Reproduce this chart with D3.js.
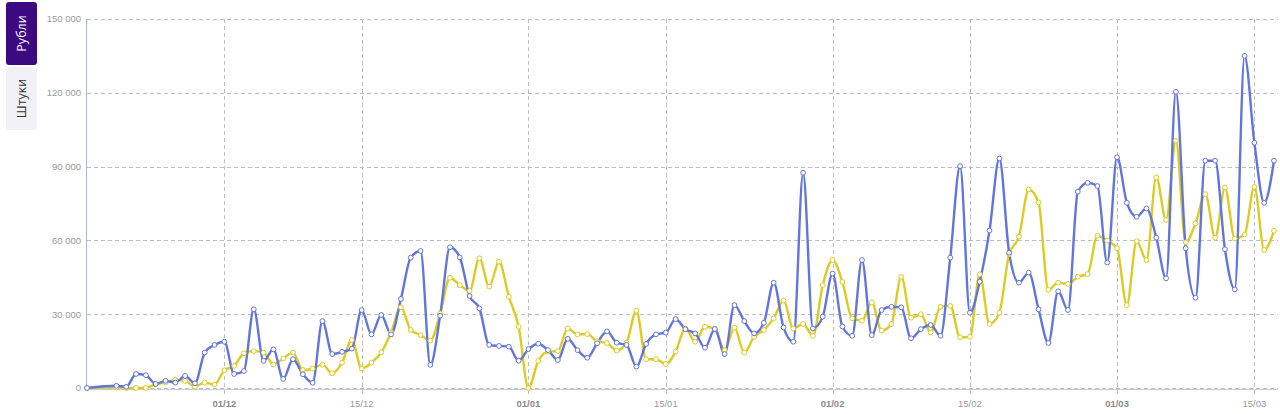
<!DOCTYPE html>
<html>
<head>
<meta charset="utf-8">
<script src="https://cdn.jsdelivr.net/npm/d3@7/dist/d3.min.js"></script>
<style>
  html, body { margin: 0; padding: 0; background: #fff; }
  svg { display: block; font-family: "Liberation Sans", Arial, sans-serif; }
</style>
</head>
<body>
<svg id="chart" width="1280" height="414"></svg>
<script>
const dates = [
  "2023-11-17","2023-11-20","2023-11-21","2023-11-22","2023-11-23","2023-11-24","2023-11-25","2023-11-26","2023-11-27","2023-11-28","2023-11-29","2023-11-30",
  "2023-12-01","2023-12-02","2023-12-03","2023-12-04","2023-12-05","2023-12-06","2023-12-07","2023-12-08","2023-12-09","2023-12-10","2023-12-11","2023-12-12","2023-12-13","2023-12-14","2023-12-15","2023-12-16","2023-12-17","2023-12-18","2023-12-19","2023-12-20","2023-12-21","2023-12-22","2023-12-23","2023-12-24","2023-12-25","2023-12-26","2023-12-27","2023-12-28","2023-12-29","2023-12-30","2023-12-31",
  "2024-01-01","2024-01-02","2024-01-03","2024-01-04","2024-01-05","2024-01-06","2024-01-07","2024-01-08","2024-01-09","2024-01-10","2024-01-11","2024-01-12","2024-01-13","2024-01-14","2024-01-15","2024-01-16","2024-01-17","2024-01-18","2024-01-19","2024-01-20","2024-01-21","2024-01-22","2024-01-23","2024-01-24","2024-01-25","2024-01-26","2024-01-27","2024-01-28","2024-01-29","2024-01-30","2024-01-31",
  "2024-02-01","2024-02-02","2024-02-03","2024-02-04","2024-02-05","2024-02-06","2024-02-07","2024-02-08","2024-02-09","2024-02-10","2024-02-11","2024-02-12","2024-02-13","2024-02-14","2024-02-15","2024-02-16","2024-02-17","2024-02-18","2024-02-19","2024-02-20","2024-02-21","2024-02-22","2024-02-23","2024-02-24","2024-02-25","2024-02-26","2024-02-27","2024-02-28","2024-02-29",
  "2024-03-01","2024-03-02","2024-03-03","2024-03-04","2024-03-05","2024-03-06","2024-03-07","2024-03-08","2024-03-09","2024-03-10","2024-03-11","2024-03-12","2024-03-13","2024-03-14","2024-03-15","2024-03-16","2024-03-17"
];

const seriesBlue = [
  0,900,500,5700,5200,1600,2900,2200,4900,1900,14400,17500,
  18800,5700,6900,32000,11000,15700,3700,11700,5600,2100,27200,13800,14700,16000,31700,21800,29700,21800,36200,53000,55700,9400,29400,57200,53100,37400,32400,17500,17100,16800,11100,
  15800,18000,15400,11400,20000,15400,12300,18200,23000,18400,17500,8700,17900,21800,22500,28000,23900,22200,16400,24000,13800,33700,27200,22200,26500,42800,24600,18800,87500,24200,29000,
  46500,25000,21200,52000,21500,31700,33000,32800,20200,23900,25600,21200,53000,90200,30600,43200,64000,93300,55000,42800,46900,32000,18300,39300,31700,79800,83400,82100,51000,
  93800,75300,69600,73000,61100,44600,120400,56800,36700,92400,92400,56400,40100,135000,99700,75300,92400
];

const seriesYellow = [
  0,200,0,0,0,1600,2200,3300,2900,600,2200,1400,
  7200,9000,14100,15000,14400,9600,12000,14400,7300,7900,9500,6000,10300,19500,7900,10300,14500,22600,32800,23600,21500,19300,30300,44800,41800,39500,52700,41200,51300,37100,24900,
  0,11000,14800,15000,24200,21800,21900,19000,18300,15200,18400,31400,11700,11700,9800,14800,24200,18800,24900,24000,15400,24500,14400,20800,23600,28300,35500,24200,26000,21200,41800,
  52000,43100,28300,27400,34800,23300,26000,45200,28600,30000,22600,33000,33400,20600,20800,46200,26000,30600,54400,61500,80700,75400,39900,42800,42300,45200,46300,61900,59900,
  56800,33700,59700,52000,85600,68300,100500,59200,66900,78800,61100,81500,60800,62400,81800,56100,63900
];

const yTicks = [0, 30000, 60000, 90000, 120000, 150000];
const xTicks = ["2023-12-01","2023-12-15","2024-01-01","2024-01-15","2024-02-01","2024-02-15","2024-03-01","2024-03-15"];
const toggleLabels = ["Рубли", "Штуки"];

const parse = d3.timeParse("%Y-%m-%d");
const pDates = dates.map(parse);
const svg = d3.select("#chart");

const x = d3.scaleTime().domain(d3.extent(pDates)).range([87, 1274]);
const y = d3.scaleLinear().domain([0, 150000]).range([388, 19]);

const fmtY = v => d3.format(",")(v).replace(/,/g, " ");
const fmtX = d3.timeFormat("%d/%m");

// toggle buttons
const tg = svg.append("g");
const btns = [
  {label: toggleLabels[0], y0: 2, h: 63, fill: "#3c0a80", color: "#ffffff"},
  {label: toggleLabels[1], y0: 67, h: 63, fill: "#f2f1f7", color: "#333333"}
];
btns.forEach((b, i) => {
  tg.append("rect").attr("x", 6).attr("y", b.y0).attr("width", 31).attr("height", b.h)
    .attr("rx", 3).attr("fill", b.fill);
  tg.append("text")
    .attr("transform", `translate(${6 + 31/2 + 4.5},${b.y0 + b.h/2}) rotate(-90)`)
    .attr("text-anchor", "middle")
    .attr("font-size", 12.5)
    .attr("font-family", "'Open Sans', 'Liberation Sans', Arial, sans-serif")
    .attr("fill", b.color)
    .text(b.label);
});

// horizontal gridlines
const gridG = svg.append("g");
gridG.selectAll("line.h").data(yTicks).join("line")
  .attr("x1", 87).attr("x2", 1278)
  .attr("y1", d => Math.round(y(d)) + 0.5).attr("y2", d => Math.round(y(d)) + 0.5)
  .attr("stroke", "#b9bec6").attr("stroke-width", 1).attr("stroke-dasharray", "4,3");

// vertical gridlines
gridG.selectAll("line.v").data(xTicks.map(parse)).join("line")
  .attr("x1", d => Math.round(x(d)) + 0.5).attr("x2", d => Math.round(x(d)) + 0.5)
  .attr("y1", 19).attr("y2", 394)
  .attr("stroke", "#b9bec6").attr("stroke-width", 1).attr("stroke-dasharray", "4,3");

// axis lines
svg.append("line").attr("x1", 86.5).attr("x2", 86.5).attr("y1", 19).attr("y2", 389)
  .attr("stroke", "#a9b6cc").attr("stroke-width", 1);
svg.append("line").attr("x1", 86).attr("x2", 1278).attr("y1", 389.5).attr("y2", 389.5)
  .attr("stroke", "#c5cdd8").attr("stroke-width", 1);

// y labels
svg.append("g").selectAll("text").data(yTicks).join("text")
  .attr("x", 81).attr("y", d => y(d)).attr("dy", "0.35em")
  .attr("text-anchor", "end").attr("font-size", 9.5).attr("fill", "#9a9a9a")
  .text(fmtY);

// x labels
svg.append("g").selectAll("text").data(xTicks.map(parse)).join("text")
  .attr("x", d => x(d)).attr("y", 406.5)
  .attr("text-anchor", "middle").attr("font-size", 9.5)
  .attr("font-weight", d => d.getDate() === 1 ? "bold" : "normal")
  .attr("fill", d => d.getDate() === 1 ? "#8a8a8a" : "#9a9a9a")
  .text(fmtX);

const series = [
  {values: seriesYellow, color: "#dccb22"},
  {values: seriesBlue, color: "#6275dc"}
];

const line = d3.line()
  .x((d, i) => x(pDates[i]))
  .y(d => y(d))
  .curve(d3.curveMonotoneX);

series.forEach(s => {
  svg.append("path").datum(s.values)
    .attr("d", line).attr("fill", "none")
    .attr("stroke", s.color).attr("stroke-width", 2.4)
    .attr("stroke-linejoin", "round");
});
series.forEach(s => {
  svg.append("g").selectAll("circle").data(s.values).join("circle")
    .attr("cx", (d, i) => x(pDates[i])).attr("cy", d => y(d))
    .attr("r", 2.4).attr("fill", "#fff")
    .attr("stroke", s.color).attr("stroke-width", 1);
});
</script>
</body>
</html>
